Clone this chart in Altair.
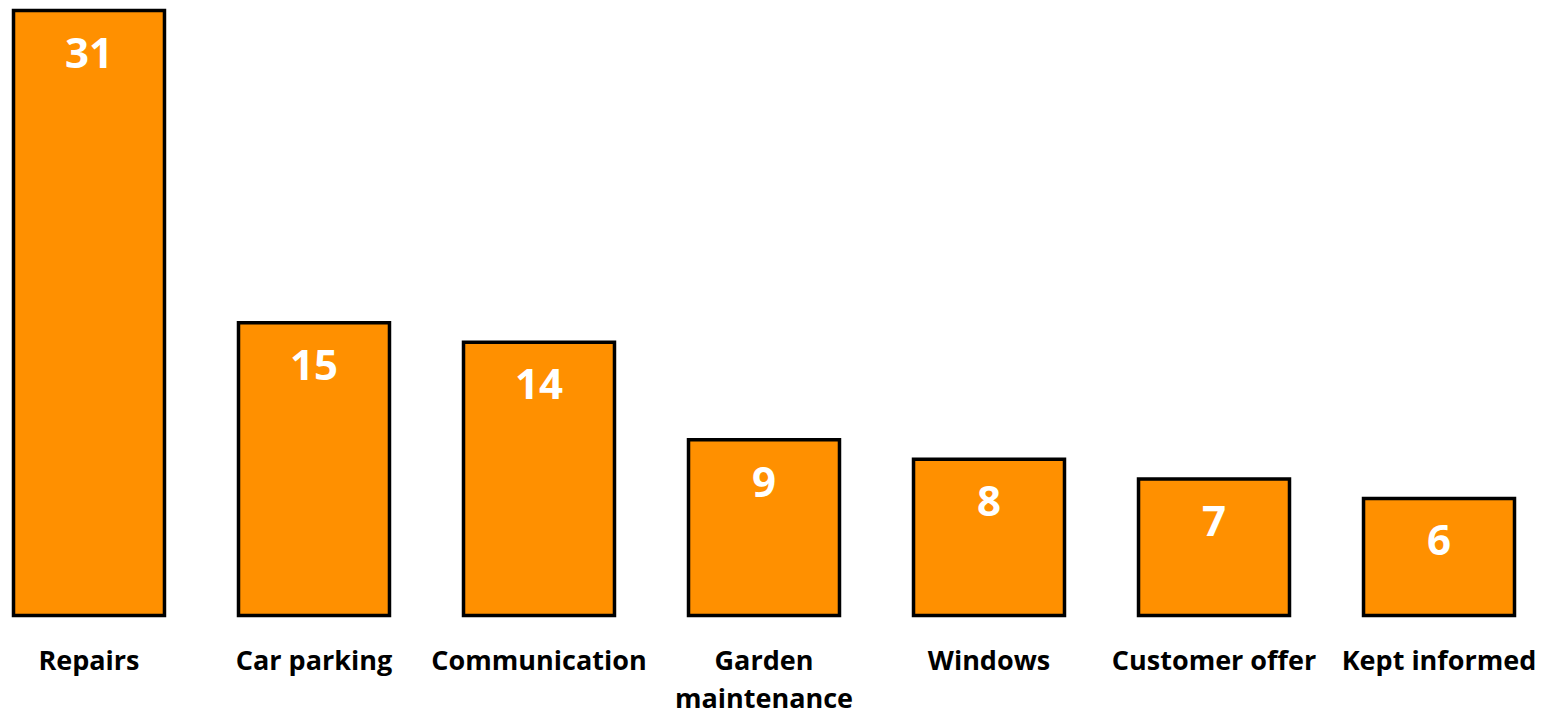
import altair as alt
import pandas as pd

categories = ["Repairs", "Car parking", "Communication", "Garden\nmaintenance", "Windows", "Customer offer", "Kept informed"]
values = [31, 15, 14, 9, 8, 7, 6]

df = pd.DataFrame({"cat": categories, "val": values})

x = alt.X("cat:N", sort=categories, title=None,
          scale=alt.Scale(paddingInner=0.329, paddingOuter=0),
          axis=alt.Axis(labelAngle=0, domain=False, ticks=False, labelFont="Open Sans",
                        labelFontWeight="bold", labelFontSize=27, labelColor="black",
                        labelPadding=46, labelLineHeight=38, labelBaseline="middle",
                        labelLimit=500, labelOverlap=False,
                        labelExpr="split(datum.label, '\\n')"))
y = alt.Y("val:Q", title=None, scale=alt.Scale(domain=[0, 31], nice=False), axis=None)

base = alt.Chart(df).encode(x=x, y=y)
bars = base.mark_bar(color="#FF9000", stroke="black", strokeWidth=3.5)
text = base.mark_text(color="white", font="Open Sans", fontWeight="bold", fontSize=42,
                      baseline="middle", dy=44).encode(text="val:Q")

chart = (bars + text).properties(width=1501, height=605,
    padding={"left": 13.5, "top": 10.5, "right": 27.5, "bottom": 95.5},
    autosize=alt.AutoSizeParams(type="none")
).configure(background="white").configure_view(stroke=None)

chart.save("out.html", embed_options={"renderer": "svg", "actions": False})
